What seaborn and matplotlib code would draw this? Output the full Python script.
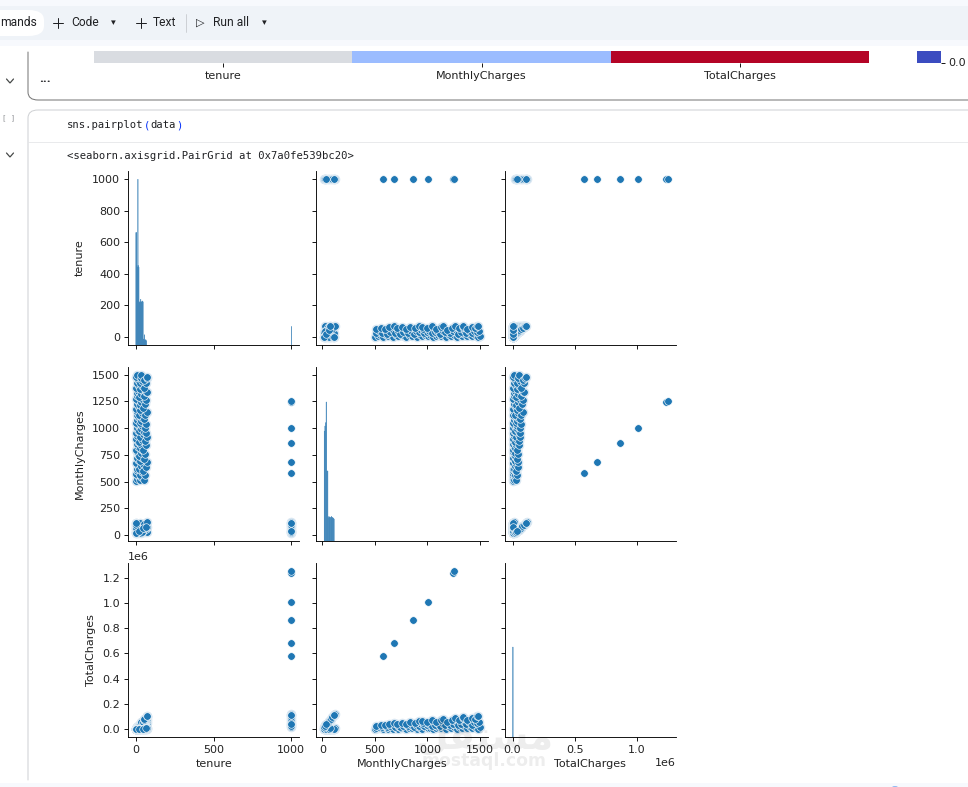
import pandas as pd
import seaborn as sns
import matplotlib
matplotlib.use("Agg")
import matplotlib.pyplot as plt
from matplotlib.patches import Rectangle, FancyBboxPatch, PathPatch, Circle
from matplotlib.path import Path
from matplotlib.ticker import MultipleLocator

W, H, DPI = 968, 787, 80
INK = "#222222"
plt.rcParams.update({"text.color": INK, "axes.labelcolor": INK, "xtick.labelcolor": INK, "ytick.labelcolor": INK})

# ---- customer records ------------------------------------------------------
tenure = [
    3, 9, 14, 2, 11, 6, 16, 1, 12, 5, 15, 8, 3, 13, 7, 17, 2, 10, 4, 14, 6, 12, 1, 9, 16, 5, 11, 3, 15, 7, 13, 2, 10, 6,
    17, 4, 12, 8, 14, 1, 9,
    24, 36, 28, 42, 21, 33, 45, 26, 38, 22, 31, 43, 27, 35, 20, 40, 29, 44, 23, 34, 39, 25, 32, 41, 21, 37, 30, 45, 26,
    35, 42, 22, 33, 44, 28, 38, 24, 41, 31, 36,
    52, 58, 49, 63, 70, 55, 61, 48, 66, 57, 69, 51, 64, 59, 67, 53, 62, 71, 47, 60, 68, 54, 65, 70, 50, 63, 56, 69, 72,
    1, 14, 33, 60, 70, 5, 22, 47, 65, 2, 30, 52, 71, 10, 41, 68, 3, 25, 55, 72, 18, 8, 38, 58, 0, 0,
    0, 0, 0, 0, 0, 0, 20, 45, 68,
    1000, 1000, 1000, 1000, 1000, 1000, 1000, 1000, 1000, 1000, 1000, 1000, 1000, 1000, 1000, 1000, 1000,
]
monthly_charges = [
    502, 528, 551, 574, 603, 622, 648, 671, 699, 724, 748, 777, 799, 826, 851, 874, 902, 925, 951, 976, 1003, 1028,
    1049, 1077, 1101, 1126, 1149, 1178, 1203, 1224, 1252, 1277, 1301, 1328, 1352, 1376, 1403, 1426, 1451, 1478, 1498,
    510, 541, 566, 592, 617, 643, 668, 694, 719, 741, 769, 793, 818, 844, 868, 893, 918, 943, 969, 994, 1019, 1044,
    1069, 1094, 1119, 1144, 1169, 1194, 1219, 1244, 1269, 1294, 1319, 1344, 1369, 1394, 1419, 1444, 1469, 1493,
    515, 560, 600, 636, 682, 710, 755, 800, 838, 880, 915, 960, 950, 1000, 1040, 1085, 1125, 1150, 1190, 1230, 1265,
    1300, 1335, 1340, 1380, 1420, 1455, 1470, 1482,
    19, 22, 20, 25, 24, 45, 50, 40, 55, 70, 72, 80, 75, 90, 95, 110, 115, 112, 105, 118, 60, 30, 30, 65, 85, 40,
    28, 52, 68, 98, 108, 18, 35, 62, 78,
    18, 30, 25, 50, 65, 80, 95, 118, 112, 38, 108, 580, 682, 860, 1006, 1244, 1254,
]
total_charges = [
    1506, 4752, 7714, 1148, 6633, 3732, 10368, 671, 8388, 3620, 11220, 6216, 2397, 10738, 5957, 14858, 1804, 9250,
    3804, 13664, 6018, 12336, 1049, 9693, 17616, 5630, 12639, 3534, 18045, 8568, 16276, 2554, 13010, 7968, 22984,
    5504, 16836, 11408, 20314, 1478, 13482,
    12240, 19476, 15848, 24864, 12957, 21219, 30060, 18044, 27322, 16302, 23839, 34099, 22086, 29540, 17360, 35720,
    26622, 41492, 22287, 33796, 39741, 26100, 34208, 44854, 23499, 42328, 35070, 53730, 31694, 43540, 53298, 28468,
    43527, 59136, 38332, 52972, 34056, 59204, 45539, 53748,
    26780, 32480, 29400, 40068, 47740, 39050, 46055, 38400, 55308, 50160, 63135, 48960, 60800, 59000, 69680, 57505,
    69750, 81650, 55930, 73800, 86020, 70200, 86775, 93800, 69000, 89460, 81480, 101430, 106704,
    19, 308, 660, 1500, 1680, 225, 1100, 1880, 3575, 140, 2160, 4160, 5325, 900, 3895, 7480, 345, 2800, 5775, 8496,
    1080, 240, 1140, 3770, 0, 0,
    0, 0, 0, 0, 0, 0, 700, 2790, 5300,
    18000, 30000, 25000, 50000, 65000, 80000, 95000, 118000, 112000, 38000, 108000, 575000, 680000, 862000, 1008000,
    1238000, 1252000,
]

# ---- binned counts for the diagonal ---------------------------------------
tenure_edges = [0, 3, 6, 9, 12, 15, 18, 21, 24, 27, 30, 33, 36, 39, 42, 45, 48, 51, 54, 57, 60, 63, 66, 69, 1000, 1001]
tenure_counts = [665, 665, 470, 460, 980, 470, 460, 255, 250, 255, 270, 255, 255, 255, 260, 255,
                 35, 30, 60, 30, 30, 30, 25, 0, 110]
monthly_edges = [18, 24, 30, 36, 42, 48, 54, 60, 66, 72, 78, 84, 90, 96, 102, 108, 114]
monthly_counts = [650, 680, 700, 822, 414, 414, 138, 145, 140, 140, 138, 145, 140, 138, 135, 130]
total_edges = [0, 5000]
total_counts = [532]

# ---- correlation strip above the pair plot --------------------------------
columns = ["tenure", "MonthlyCharges", "TotalCharges"]
strip_values = [[0.485, 0.29, 1.0]]

HIST_BINS = {
    "tenure": (tenure_edges, tenure_counts),
    "MonthlyCharges": (monthly_edges, monthly_counts),
    "TotalCharges": (total_edges, total_counts),
}

data = pd.DataFrame({"tenure": tenure, "MonthlyCharges": monthly_charges, "TotalCharges": total_charges})
# rows in the crowded clusters get a pale backing, the lone high-value rows do not
crowded = data["tenure"].lt(1000) | data["MonthlyCharges"].lt(200)


def draw_hist(x, **kwargs):
    edges, counts = HIST_BINS[x.name]
    centers = [(a + b) / 2 for a, b in zip(edges[:-1], edges[1:])]
    ax = plt.gca()
    sns.histplot(x=centers, weights=counts, bins=list(edges), linewidth=0.35, edgecolor="#3f85b9", alpha=1,
                 color="#3f85b9", ax=ax)
    # bars narrower than a pixel stay visible as pale lines when not snapped to the grid;
    # empty bins would otherwise leave an outline along the baseline
    for bar in ax.patches:
        bar.set_snap(False)
        if bar.get_height() == 0:
            bar.set_visible(False)


def backed_scatter(x, y, color=None, **kwargs):
    ax = plt.gca()
    keep = crowded.loc[x.index]
    sns.scatterplot(x=x[keep], y=y[keep], s=74, color="#d4e4f1", linewidth=0, ax=ax, zorder=1)
    sns.scatterplot(x=x, y=y, s=46, color=color, ax=ax, zorder=2)


g = sns.PairGrid(data, height=3)
g.map_offdiag(backed_scatter)
g.map_diag(draw_hist)
g.axes[2, 0].xaxis.set_major_locator(MultipleLocator(500))
for row, pad in enumerate((6.5, 6.5, 5.8)):
    g.axes[row, 0].yaxis.labelpad = pad

fig = g.figure
fig.set_size_inches(W / DPI, H / DPI)
fig.set_dpi(DPI)
fig.subplots_adjust(left=128 / W, right=676 / W, top=1 - 171 / H, bottom=1 - 737 / H, wspace=0.1, hspace=0.127)


# ---- notebook page around the plot ----------------------------------------
def fx(x):
    return x / W


def fy(y):
    return 1 - y / H


def rect(x0, y0, x1, y1, color, z=-5):
    fig.add_artist(Rectangle((fx(x0), fy(y1)), (x1 - x0) / W, (y1 - y0) / H, transform=fig.transFigure,
                             facecolor=color, edgecolor="none", zorder=z))


def poly(points, color, lw=1.0, curve=False, z=-3):
    pts = [(fx(a), fy(b)) for a, b in points]
    codes = [Path.MOVETO] + [Path.LINETO] * (len(pts) - 1)
    if curve:
        codes = [Path.MOVETO, Path.LINETO, Path.CURVE3, Path.CURVE3, Path.LINETO]
    fig.add_artist(PathPatch(Path(pts, codes), transform=fig.transFigure, facecolor="none", edgecolor=color,
                             lw=lw, zorder=z, capstyle="round"))


def label(x, y, s, size=10.8, color="#202124", family=("Roboto", "DejaVu Sans"), ha="left", **kw):
    fig.text(fx(x), fy(y), s, fontsize=size, color=color, family=list(family), ha=ha, va="center", **kw)


rect(0, 0, W, H, "#f7f9fd", z=-10)
rect(0, 46, W, 783, "white", z=-9)
rect(0, 6, W, 40, "#eff3f8", z=-8)
fig.add_artist(FancyBboxPatch((fx(-30), fy(36)), 74 / W, 26 / H, transform=fig.transFigure,
                              boxstyle="round,pad=0,rounding_size=0.016", mutation_aspect=H / W,
                              facecolor="white", edgecolor="none", zorder=-7))

label(0, 23, "mands")
poly([(53, 23), (63, 23)], "#202124", lw=0.9)
poly([(58, 18), (58, 28)], "#202124", lw=0.9)
label(71, 23, "Code")
label(111, 23, "▾", size=8.5)
poly([(136, 23), (146, 23)], "#202124", lw=0.9)
poly([(141, 18), (141, 28)], "#202124", lw=0.9)
label(153, 23, "Text")
poly([(186, 14), (186, 32)], "#c4c7cc", lw=0.7)
label(196, 23, "▷", size=10)
label(213, 23, "Run all")
label(262, 23, "▾", size=8.5)

poly([(28, 52), (28, 92), (28, 100), (38, 100), (W + 5, 100)], "#757575", lw=0.9, curve=True)
poly([(28, 780), (28, 118), (28, 110), (38, 110), (W + 5, 110)], "#cfd1d4", lw=0.9, curve=True)
poly([(28, 142), (W + 5, 142)], "#e4e5e7", lw=0.7)
for cy in (81, 155):
    poly([(6.5, cy - 2), (10, cy + 2), (13.5, cy - 2)], "#444746", lw=1.1)
label(45, 78, "...", size=12, weight="bold", ha="center")
label(9, 118, "[ ]", size=6.5, color="#8a8d91", family=("DejaVu Sans Mono",), ha="center")

mono = ("DejaVu Sans Mono",)
label(67, 125, "sns.pairplot", size=9.5, family=mono)
label(143.8, 125, "(", size=9.5, family=mono, color="#0431fa")
label(150.2, 125, "data", size=9.5, family=mono)
label(175.8, 125, ")", size=9.5, family=mono, color="#0431fa")
label(67, 156, "<seaborn.axisgrid.PairGrid at 0x7a0fe539bc20>", size=9.5, family=mono)

strip_ax = fig.add_axes([fx(94), fy(63), (869 - 94) / W, 12 / H])
sns.heatmap(strip_values, cmap="coolwarm", vmin=0, vmax=1, cbar=False, ax=strip_ax,
            xticklabels=columns, yticklabels=False)
strip_ax.tick_params(axis="x", labelrotation=0, length=3.5, width=0.8, pad=3.5)

bar_ax = fig.add_axes([fx(917), fy(62.5), 24 / W, 11.5 / H])
bar_ax.set_facecolor("#3b4cc0")
bar_ax.set_xticks([])
bar_ax.yaxis.tick_right()
bar_ax.set_ylim(0, 1)
bar_ax.set_yticks([0], ["0.0"])
bar_ax.tick_params(axis="y", length=3.5, width=0.8, pad=3)
for side in bar_ax.spines.values():
    side.set_visible(False)

fig.add_artist(Circle((fx(895), fy(794)), 0.0095, transform=fig.transFigure, facecolor="#1a73e8",
                      edgecolor="none", zorder=-4))

# site mark across the lower panels
fig.text(fx(484), fy(738), "\ufede\ufed8\ufe98\ufeb4\ufee3", fontsize=34, weight="bold", color="black", alpha=0.07,
         ha="center", va="center", family="DejaVu Sans", zorder=20)
fig.text(fx(484), fy(761), "mostaql.com", fontsize=15.5, weight="bold", color="black", alpha=0.07,
         ha="center", va="center", family="DejaVu Sans", zorder=20)

fig.savefig("out.png", dpi=DPI)
